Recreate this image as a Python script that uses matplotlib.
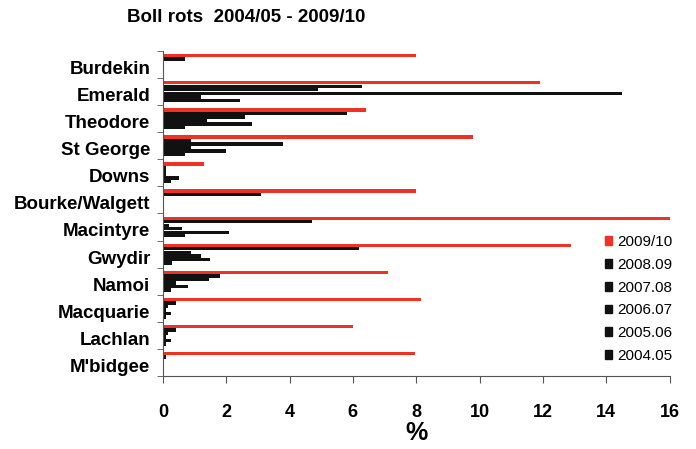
import matplotlib
matplotlib.use('Agg')
import matplotlib.pyplot as plt
import matplotlib.transforms as mtransforms
import numpy as np
from matplotlib.patches import Patch

plt.rcParams['font.family'] = ['Liberation Sans', 'DejaVu Sans']

regions = ['Burdekin', 'Emerald', 'Theodore', 'St George', 'Downs', 'Bourke/Walgett',
           'Macintyre', 'Gwydir', 'Namoi', 'Macquarie', 'Lachlan', "M'bidgee"]
seasons = ['2009/10', '2008.09', '2007.08', '2006.07', '2005.06', '2004.05']

s0910 = [8.0, 11.9, 6.4, 9.8, 1.3, 8.0, 16.0, 12.9, 7.1, 8.15, 6.0, 7.95]
s0809 = [0.7, 6.3, 5.8, 0.9, 0.1, 3.1, 4.7, 6.2, 1.8, 0.4, 0.4, 0.1]
s0708 = [0, 4.9, 2.6, 3.8, 0.1, 0, 0.2, 0.9, 1.45, 0.15, 0.15, 0.05]
s0607 = [0, 14.5, 1.4, 0.9, 0.1, 0, 0.6, 1.2, 0.4, 0.1, 0.1, 0]
s0506 = [0, 1.2, 2.8, 2.0, 0.5, 0, 2.1, 1.5, 0.8, 0.25, 0.25, 0]
s0405 = [0, 2.45, 0.7, 0.7, 0.25, 0.05, 0.7, 0.3, 0.25, 0.1, 0.1, 0]

series = [s0910, s0809, s0708, s0607, s0506, s0405]
colors = ['#ee3224', '#111111', '#111111', '#111111', '#111111', '#111111']

fig = plt.figure(figsize=(6.96, 4.49), dpi=100)
ax = fig.add_axes([0.234, 0.1626, 0.728, 0.724])

n = len(regions)
ypos = np.arange(n)[::-1]
h = 0.13
for k, (vals, c) in enumerate(zip(series, colors)):
    ax.barh(ypos + (2.5 - k) * h, vals, height=h * 0.96, color=c, linewidth=0)

ax.set_xlim(0, 16)
ax.set_ylim(-0.5, n - 0.5)
ax.set_xticks(np.arange(0, 17, 2))
ax.set_xticklabels([str(v) for v in range(0, 17, 2)], fontweight='bold', fontsize=13)
ax.set_yticks(ypos)
ax.set_yticklabels(regions, fontweight='bold', fontsize=13.5)
ax.set_yticks(np.arange(n + 1) - 0.5, minor=True)
ax.tick_params(axis='y', which='major', length=0, pad=9)
ax.tick_params(axis='y', which='minor', length=4, color='#555555')
ax.tick_params(axis='x', length=5, color='#555555', pad=15)
ax.set_xlabel('%', fontweight='bold', fontsize=18, labelpad=0)

# nudge the region names a little below the group centres
shift = mtransforms.ScaledTranslation(0, -3 / 100, fig.dpi_scale_trans)
for lab in ax.get_yticklabels():
    lab.set_transform(lab.get_transform() + shift)

for side in ['top', 'right']:
    ax.spines[side].set_visible(False)
for side in ['left', 'bottom']:
    ax.spines[side].set_color('#555555')

fig.text(0.354, 0.962, 'Boll rots  2004/05 - 2009/10', ha='center', va='center',
         fontweight='bold', fontsize=13.5)

handles = [Patch(color=c) for c in colors]
ax.legend(handles, seasons, loc='upper left', bbox_to_anchor=(0.872, 0.433),
          frameon=False, fontsize=11, handlelength=0.5, handleheight=0.5,
          handletextpad=0.3, labelspacing=0.57, borderpad=0, borderaxespad=0)

fig.savefig('out.png', dpi=100)
